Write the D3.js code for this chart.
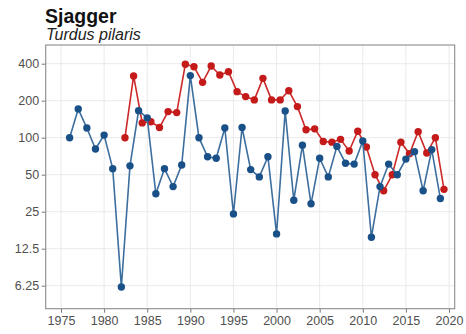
<!DOCTYPE html>
<html><head><meta charset="utf-8">
<script src="https://cdn.jsdelivr.net/npm/d3@7"></script>
<style>body{margin:0;background:#fff}svg{display:block;font-family:"Liberation Sans",Arial,sans-serif}</style>
</head><body><svg id="c" width="466" height="334"></svg>
<script>
const blueYears = d3.range(1976, 2020);
const blueValues = [100,171,120,81,105,56,6.1,59,166,145,35,56,40,60,320,100,70,68,120,24,121,55,48,70,16.5,165,31,87,29,68,48,85,62,61,94,15.5,40,61,50,67,77,37,80,32];
const redYears = d3.range(1982, 2020);
const redValues = [100,318,132,135,121,163,160,396,378,282,383,324,344,237,216,203,304,203,203,241,179,116,118,93,92,97,78,113,84,50,37,50,92,74,112,75,100,38];
const redOffset = 0.42;
const yTicks = [6.25,12.5,25,50,100,200,400];
const xTicks = [1975,1980,1985,1990,1995,2000,2005,2010,2015,2020];
const title = "Sjagger", subtitle = "Turdus pilaris";

const svg = d3.select("#c");
const L=45.7, R=454.7, T=45, B=308.7;
const x = d3.scaleLinear().domain([1975,2020]).range([61,449]);
const y = d3.scaleLog().base(2).domain([100,200]).range([137.7,100.7]);

const g = svg.append("g");
g.selectAll(".gx").data(xTicks).join("line").attr("x1",d=>x(d)).attr("x2",d=>x(d)).attr("y1",T).attr("y2",B).attr("stroke","#e8e8e8").attr("stroke-width",0.9);
g.selectAll(".gy").data(yTicks).join("line").attr("y1",d=>y(d)).attr("y2",d=>y(d)).attr("x1",L).attr("x2",R).attr("stroke","#e8e8e8").attr("stroke-width",0.9);

const xa = svg.append("g").attr("transform",`translate(0,${B})`).call(d3.axisBottom(x).tickValues(xTicks).tickFormat(d3.format("d")).tickSize(4).tickPadding(3));
const ya = svg.append("g").attr("transform",`translate(${L},0)`).call(d3.axisLeft(y).tickValues(yTicks).tickFormat(d=>String(d)).tickSize(4).tickPadding(2.5));
[xa,ya].forEach(a=>{a.select(".domain").remove();a.selectAll("line").attr("stroke","#555").attr("stroke-width",0.8);a.selectAll("text").attr("fill","#505050").attr("font-size",12.5).attr("font-family","Liberation Sans, Arial, sans-serif");});
xa.selectAll("text").attr("dy","0.72em");

svg.append("rect").attr("x",L).attr("y",T).attr("width",R-L).attr("height",B-T).attr("fill","none").attr("stroke","#8c8c8c").attr("stroke-width",1.1);

const line = d3.line().x(d=>x(d[0])).y(d=>y(d[1]));
const red = redYears.map((yr,i)=>[yr+redOffset, redValues[i]]);
const blue = blueYears.map((yr,i)=>[yr, blueValues[i]]);
svg.append("path").datum(red).attr("d",line).attr("fill","none").attr("stroke","#cc2a2a").attr("stroke-width",1.6);
svg.selectAll(".pr").data(red).join("circle").attr("cx",d=>x(d[0])).attr("cy",d=>y(d[1])).attr("r",3.7).attr("fill","#c41a1a");
svg.append("path").datum(blue).attr("d",line).attr("fill","none").attr("stroke","#3c6e9e").attr("stroke-width",1.6);
svg.selectAll(".pb").data(blue).join("circle").attr("cx",d=>x(d[0])).attr("cy",d=>y(d[1])).attr("r",3.7).attr("fill","#1a5088");

svg.append("text").attr("x",45).attr("y",23).attr("font-size",19.5).attr("font-weight","bold").attr("fill","#111").text(title);
svg.append("text").attr("x",46).attr("y",40).attr("font-size",16).attr("font-style","italic").attr("fill","#222").text(subtitle);
</script></body></html>
